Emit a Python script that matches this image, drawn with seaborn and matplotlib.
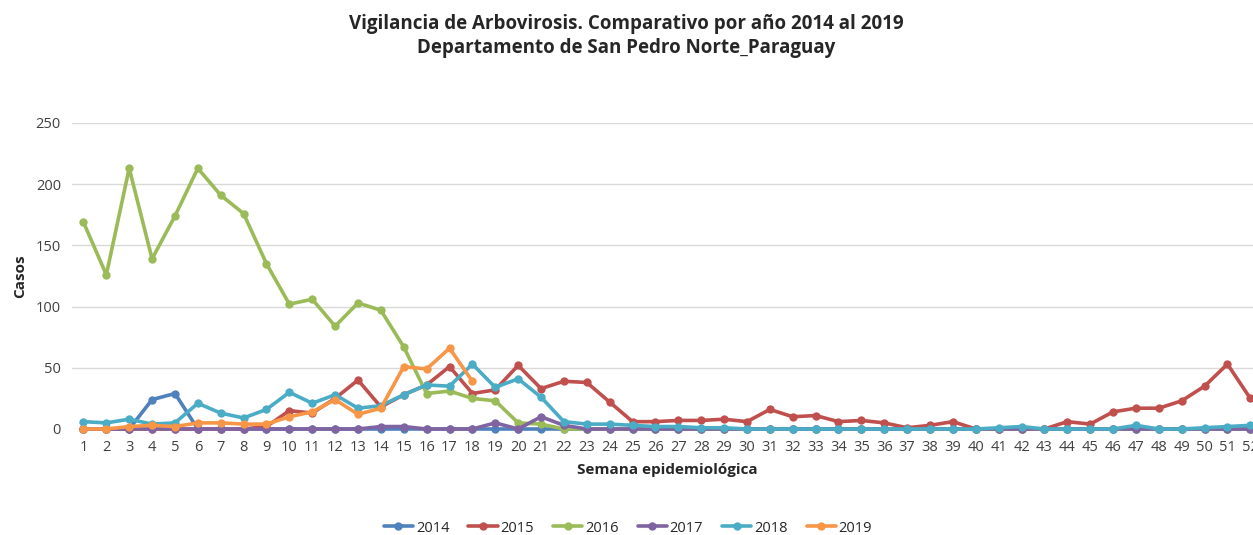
import numpy as np
import pandas as pd
import matplotlib
matplotlib.use("Agg")
import matplotlib.pyplot as plt
import seaborn as sns

# Data
semanas = list(range(1, 53))

casos_2014 = [0, 0, 0, 24, 29] + [0] * 47
casos_2015 = [0, 0, 0, 0, 0, 0, 0, 0, 2, 15, 13, 25, 40, 18, 28, 36, 51, 29, 32, 52,
              33, 39, 38, 22, 6, 6, 7, 7, 8, 6, 16, 10, 11, 6, 7, 5, 1, 3, 6, 0,
              0, 0, 0, 6, 4, 14, 17, 17, 23, 35, 53, 25]
casos_2016 = [169, 126, 213, 139, 174, 213, 191, 176, 135, 102, 106, 84, 103, 97, 67, 29,
              31, 25, 23, 5, 4, 0] + [0] * 30
casos_2017 = [0] * 13 + [2, 2, 0, 0, 0, 5, 0, 10, 3] + [0] * 30
casos_2018 = [6, 5, 8, 4, 5, 21, 13, 9, 16, 30, 21, 28, 17, 19, 28, 36, 35, 53, 34, 41,
              26, 6, 4, 4, 3, 2, 2, 1, 1, 0, 0, 0, 0, 0, 0, 0, 0, 0, 0, 0,
              1, 2, 0, 0, 0, 0, 3, 0, 0, 1, 2, 3]
casos_2019 = [0, 0, 2, 3, 2, 5, 5, 4, 4, 10, 14, 24, 12, 17, 51, 49, 66, 39]

series = {
    "2014": casos_2014,
    "2015": casos_2015,
    "2016": casos_2016,
    "2017": casos_2017,
    "2018": casos_2018,
    "2019": casos_2019,
}
colores = ["#4F81BD", "#C0504D", "#9BBB59", "#8064A2", "#4BACC6", "#F79646"]

rows = []
for anio, vals in series.items():
    for s, v in zip(semanas, vals):
        rows.append({"Semana": s, "Casos": v, "Año": anio})
df = pd.DataFrame(rows)

sns.set_style("white")
plt.rcParams["font.family"] = ["Open Sans", "DejaVu Sans"]

fig = plt.figure(figsize=(12.53, 5.35), dpi=100)
W, H = 1253, 535
ax = fig.add_axes([72 / W, 1 - 429 / H, (52 * 22.88) / W, (429 - 123) / H])

sns.lineplot(data=df, x="Semana", y="Casos", hue="Año", palette=colores,
             marker="o", markersize=6, markeredgewidth=0, linewidth=2.6,
             ax=ax, legend=True, clip_on=False)

ax.set_xlim(0.5, 52.5)
ax.set_ylim(0, 250)
ax.set_yticks([0, 50, 100, 150, 200, 250])
ax.set_xticks(semanas)
ax.tick_params(axis="both", labelsize=10.5, length=0, colors="#404040", pad=8)
ax.yaxis.grid(True, color="#D9D9D9", linewidth=1)
for sp in ax.spines.values():
    sp.set_visible(False)

ax.set_xlabel("Semana epidemiológica", fontsize=11, fontweight="bold", labelpad=6)
ax.set_ylabel("Casos", fontsize=11, fontweight="bold", labelpad=6)

leg = ax.legend(loc="center", bbox_to_anchor=((628 - 72) / (52 * 22.88), (429 - 528) / 306),
                ncol=6, frameon=False, fontsize=10.5, handlelength=2.0,
                columnspacing=1.3, handletextpad=0.2)

fig.text(0.5, 1 - 24 / H, "Vigilancia de Arbovirosis. Comparativo por año 2014 al 2019",
         ha="center", va="center", fontsize=13.5, fontweight="bold")
fig.text(0.5, 1 - 48 / H, "Departamento de San Pedro Norte_Paraguay",
         ha="center", va="center", fontsize=13.5, fontweight="bold")

fig.savefig("out.png", dpi=100)
